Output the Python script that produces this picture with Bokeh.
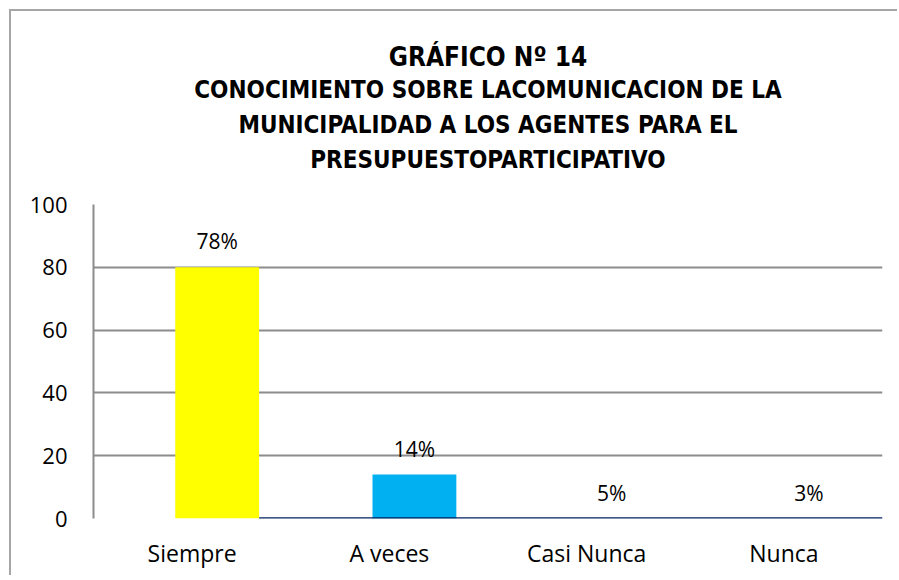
from bokeh.plotting import figure
from bokeh.models import Range1d, FixedTicker, Title
from bokeh.core.properties import value
from bokeh.embed import file_html
from bokeh.resources import INLINE

# ---- data ----
categories = ["Siempre", "A veces", "Casi Nunca", "Nunca"]
values = [80, 14, 0, 0]
labels = ["78%", "14%", "5%", "3%"]
colors = ["#FFFF00", "#00B0F0", "#002060", "#002060"]
y_ticks = [0, 20, 40, 60, 80, 100]
title_lines = [
    "GRÁFICO Nº 14",
    "CONOCIMIENTO SOBRE LACOMUNICACION DE LA",
    "MUNICIPALIDAD A LOS AGENTES PARA EL",
    "PRESUPUESTOPARTICIPATIVO",
]

positions = list(range(len(categories)))
BAR_OFFSET = 0.127
BAR_WIDTH = 0.425
bar_x = [i + BAR_OFFSET for i in positions]

TITLE_FONT = "'Liberation Sans Narrow', 'Arial Narrow', 'DejaVu Sans Condensed', 'Liberation Sans', sans-serif"
BODY_FONT = "Open Sans"
GRID = "#8C8C8C"

p = figure(width=888, height=566, output_backend="svg", toolbar_location=None,
           x_range=Range1d(-0.5, 3.5), y_range=Range1d(0, 100),
           min_border_left=82, min_border_right=17, min_border_bottom=59,
           min_border_top=193, background_fill_color="white",
           border_fill_color="white", outline_line_color=None, title=None)
# outer chart frame: only its top and left edges fall inside the picture
p.styles = {"margin-left": "11px", "margin-top": "11px",
            "box-shadow": "-2px -2px 0px 0px #A6A6A6"}

# spacer between plot and title block
p.add_layout(Title(text=" ", text_font_size="12px", standoff=12), "above")

# titles: added from nearest-the-plot outward
sizes = ["26px", "24px", "24px", "24px"]
standoffs = [0, 5, 5, 5]
for i in reversed(range(len(title_lines))):
    t = Title(text=title_lines[i], align="center", text_font=TITLE_FONT,
              text_font_size=sizes[i], text_font_style="bold", text_color="black",
              standoff=standoffs[i], offset=0)
    p.add_layout(t, "above")

p.vbar(x=bar_x, top=values, width=BAR_WIDTH, bottom=0, fill_color=colors, line_color=None)

# dark baseline to the right of the first bar
p.segment(x0=[bar_x[0] + BAR_WIDTH / 2], y0=[0], x1=[p.x_range.end], y1=[0],
          line_color="#002060", line_width=2.5)

p.text(x=bar_x, y=values, text=labels, text_align="center", text_baseline="middle",
       y_offset=-26, text_font=value(BODY_FONT), text_font_size="21px", text_color="black")

# axes
p.xaxis.ticker = FixedTicker(ticks=positions)
p.xaxis.major_label_overrides = {i: c for i, c in zip(positions, categories)}
p.xaxis.axis_line_color = None
p.xaxis.major_tick_line_color = None
p.xaxis.minor_tick_line_color = None
p.xaxis.major_tick_out = 0
p.xaxis.major_label_standoff = 18
p.xaxis.major_label_text_font = BODY_FONT
p.xaxis.major_label_text_font_size = "23px"
p.xaxis.major_label_text_color = "black"

p.yaxis.ticker = FixedTicker(ticks=y_ticks)
p.yaxis.axis_line_color = GRID
p.yaxis.axis_line_width = 2
p.yaxis.major_tick_line_color = None
p.yaxis.minor_tick_line_color = None
p.yaxis.major_tick_out = 0
p.yaxis.major_label_standoff = 26
p.yaxis.major_label_text_font = BODY_FONT
p.yaxis.major_label_text_font_size = "22px"
p.yaxis.major_label_text_color = "black"

p.xgrid.grid_line_color = None
p.ygrid.grid_line_color = GRID
p.ygrid.grid_line_width = 2

open("out.html", "w").write(file_html(p, INLINE))
